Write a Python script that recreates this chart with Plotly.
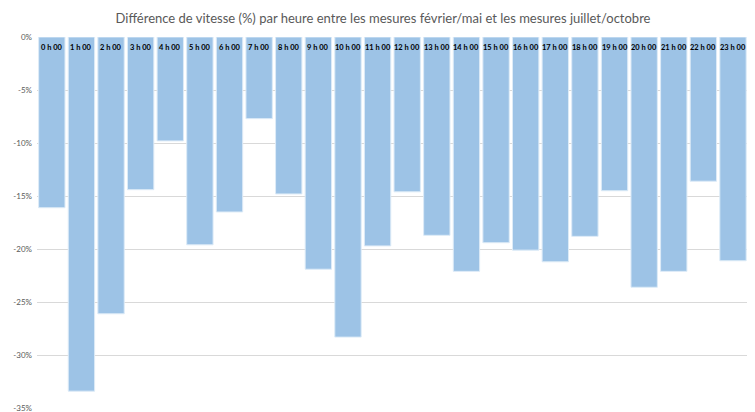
import plotly.graph_objects as go

hours = [f"{h} h 00" for h in range(24)]
values = [-16.1, -33.4, -26.1, -14.4, -9.8, -19.6, -16.5, -7.7, -14.8, -21.9,
          -28.3, -19.7, -14.6, -18.7, -22.1, -19.4, -20.1, -21.2, -18.8, -14.5,
          -23.6, -22.1, -13.6, -21.1]
y_ticks = [0, -5, -10, -15, -20, -25, -30, -35]
title = "Différence de vitesse (%) par heure entre les mesures février/mai et les mesures juillet/octobre"

fig = go.Figure(go.Bar(
    x=hours, y=values,
    marker=dict(color="#9DC3E6", line=dict(color="#DDEBF7", width=1)),
    hoverinfo="x+y",
))

for h in hours:
    fig.add_annotation(x=h, y=0, yref="y", text=f"<b>{h}</b>", showarrow=False,
                       yanchor="top", yshift=-4, font=dict(size=7.5, color="#000000", family="Lato"))

# the page body adds an 8px offset; the figure is sized to fill the rest of the window
fig.update_layout(
    width=747, height=404,
    margin=dict(l=29, r=7, t=29, b=3, autoexpand=False),
    paper_bgcolor="white", plot_bgcolor="white",
    title=dict(text=title, x=0.502, xanchor="center", y=0.975, yanchor="middle",
               font=dict(family="Lato", size=13, color="#595959")),
    bargap=0.11,
    showlegend=False,
    xaxis=dict(showticklabels=False, showgrid=False, zeroline=False, showline=False,
               automargin=False),
    yaxis=dict(range=[-35.08, 0], tickvals=y_ticks, ticktext=[f"{v}%" for v in y_ticks],
               showgrid=True, gridcolor="#D9D9D9", gridwidth=1, zeroline=False,
               automargin=False, ticklabeloverflow="allow",
               tickfont=dict(family="Lato", size=8, color="#595959"), ticklabelstandoff=4),
    font=dict(family="Lato"),
)

fig.write_html("out.html")
